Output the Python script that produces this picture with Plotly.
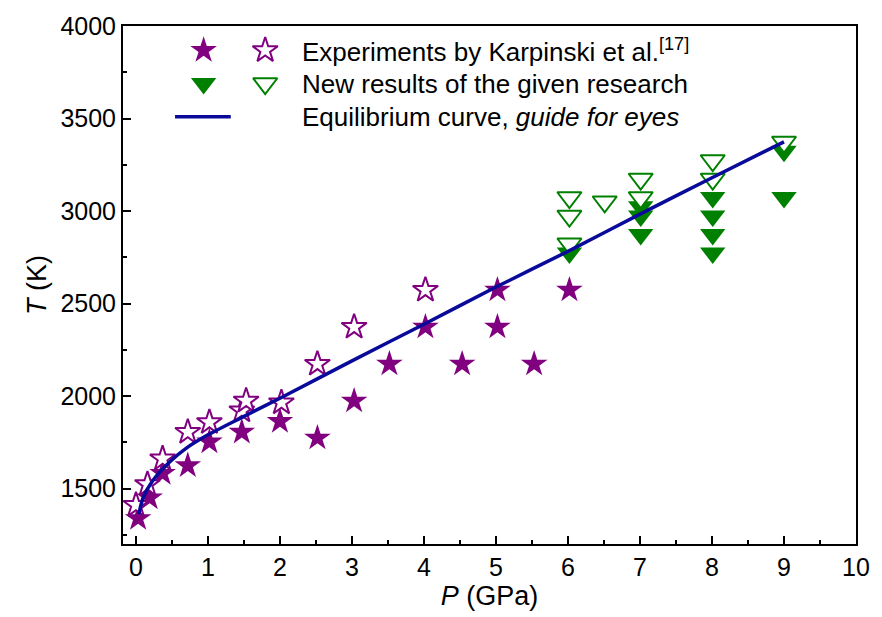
import plotly.graph_objects as go

# ---- data ----
karp_filled_P = [0.03, 0.19, 0.37, 0.72, 1.02, 1.47, 2.0, 2.52, 3.03, 3.52, 4.02, 4.53, 5.02, 5.02, 5.53, 6.02]
karp_filled_T = [1338, 1449, 1582, 1624, 1752, 1805, 1863, 1773, 1973, 2173, 2373, 2173, 2573, 2373, 2173, 2573]

karp_open_P = [0.0, 0.16, 0.37, 0.72, 1.02, 1.47, 1.53, 2.02, 2.52, 3.03, 4.02]
karp_open_T = [1410, 1523, 1661, 1805, 1858, 1921, 1974, 1964, 2173, 2373, 2573]

new_filled_P = [6.02, 7.01, 7.01, 7.01, 8.01, 8.01, 8.01, 8.01, 9.0, 9.0]
new_filled_T = [2773, 3023, 2973, 2873, 3073, 2973, 2873, 2773, 3323, 3073]

new_open_P = [6.02, 6.02, 6.02, 6.51, 7.01, 7.01, 8.01, 8.01, 9.0]
new_open_T = [3073, 2973, 2823, 3050, 3173, 3073, 3273, 3173, 3373]

curve_P = [0.04, 0.1, 0.23, 0.46, 0.7, 1.0, 1.5, 2.0, 3.0, 4.0, 5.0, 6.0, 7.0, 8.0, 9.0]
curve_T = [1362, 1450, 1540, 1640, 1718, 1790, 1890, 1988, 2190, 2388, 2589, 2782, 2983, 3180, 3374]

x_ticks = [0, 1, 2, 3, 4, 5, 6, 7, 8, 9, 10]
y_ticks = [1500, 2000, 2500, 3000, 3500, 4000]

legend_labels = [
    "Experiments by Karpinski et al.<sup>[17]</sup>",
    "New results of the given research",
    "Equilibrium curve, <i>guide for eyes</i>",
]

PURPLE = "#800080"
GREEN = "#008000"
BLUE = "#0a0a9a"
FONT = "Liberation Sans, Arial, sans-serif"

fig = go.Figure()

fig.add_trace(go.Scatter(x=karp_filled_P, y=karp_filled_T, mode="markers",
                         marker=dict(symbol="star", size=20, color=PURPLE, line=dict(width=0)),
                         showlegend=False))
fig.add_trace(go.Scatter(x=karp_open_P, y=karp_open_T, mode="markers",
                         marker=dict(symbol="star", size=19, color="white",
                                     line=dict(width=2, color=PURPLE)),
                         showlegend=False))
fig.add_trace(go.Scatter(x=new_filled_P, y=new_filled_T, mode="markers",
                         marker=dict(symbol="triangle-down", size=22, color=GREEN, line=dict(width=0)),
                         showlegend=False))
fig.add_trace(go.Scatter(x=new_open_P, y=new_open_T, mode="markers",
                         marker=dict(symbol="triangle-down", size=21, color="white",
                                     line=dict(width=2, color=GREEN)),
                         showlegend=False))
fig.add_trace(go.Scatter(x=curve_P, y=curve_T, mode="lines",
                         line=dict(color=BLUE, width=3.5, shape="spline", smoothing=0.8),
                         showlegend=False))

# ---- custom legend (two symbols per row) on a hidden overlay axis ----
leg_sym_x1, leg_sym_x2 = 0.110, 0.194
leg_rows_y = [0.953, 0.889, 0.825]
leg_text_x = 0.241
fig.add_trace(go.Scatter(x=[leg_sym_x1], y=[leg_rows_y[0]], xaxis="x2", yaxis="y2", mode="markers",
                         marker=dict(symbol="star", size=20, color=PURPLE), showlegend=False, hoverinfo="skip"))
fig.add_trace(go.Scatter(x=[leg_sym_x2], y=[leg_rows_y[0]], xaxis="x2", yaxis="y2", mode="markers",
                         marker=dict(symbol="star", size=19, color="white", line=dict(width=2, color=PURPLE)),
                         showlegend=False, hoverinfo="skip"))
fig.add_trace(go.Scatter(x=[leg_sym_x1], y=[leg_rows_y[1]], xaxis="x2", yaxis="y2", mode="markers",
                         marker=dict(symbol="triangle-down", size=22, color=GREEN), showlegend=False, hoverinfo="skip"))
fig.add_trace(go.Scatter(x=[leg_sym_x2], y=[leg_rows_y[1]], xaxis="x2", yaxis="y2", mode="markers",
                         marker=dict(symbol="triangle-down", size=21, color="white", line=dict(width=2, color=GREEN)),
                         showlegend=False, hoverinfo="skip"))
fig.add_trace(go.Scatter(x=[0.071, 0.147], y=[leg_rows_y[2]] * 2, xaxis="x2", yaxis="y2", mode="lines",
                         line=dict(color=BLUE, width=3.5), showlegend=False, hoverinfo="skip"))

for lbl, yy in zip(legend_labels, leg_rows_y):
    fig.add_annotation(x=leg_text_x, y=yy, xref="x2", yref="y2", text=lbl, showarrow=False,
                       xanchor="left", yanchor="middle", font=dict(family=FONT, size=26, color="black"))

fig.update_layout(
    width=882, height=617,
    margin=dict(l=123, r=13, t=16, b=73),
    paper_bgcolor="white", plot_bgcolor="white",
    font=dict(family=FONT, size=25, color="black"),
    xaxis=dict(range=[-0.18, 10], tickvals=x_ticks, ticktext=[str(v) for v in x_ticks],
               ticks="inside", ticklen=8, tickwidth=1.5, tickcolor="black",
               minor=dict(ticks="inside", dtick=0.5, ticklen=4, tickwidth=1.5, tickcolor="black", showgrid=False),
               showline=True, linecolor="black", linewidth=2, mirror=True, showgrid=False, zeroline=False,
               tickfont=dict(size=25), title=dict(text="<i>P</i> (GPa)", font=dict(size=27), standoff=0)),
    yaxis=dict(range=[1200, 4000], tickvals=y_ticks, ticktext=[str(v) for v in y_ticks],
               ticks="inside", ticklen=8, tickwidth=1.5, tickcolor="black",
               minor=dict(ticks="inside", dtick=250, tick0=1250, ticklen=4, tickwidth=1.5, tickcolor="black", showgrid=False),
               showline=True, linecolor="black", linewidth=2, mirror=True, showgrid=False, zeroline=False,
               tickfont=dict(size=25), title=dict(text="<i>T</i> (K)", font=dict(size=27), standoff=6)),
    xaxis2=dict(overlaying="x", range=[0, 1], visible=False, fixedrange=True),
    yaxis2=dict(overlaying="y", range=[0, 1], visible=False, fixedrange=True),
)

fig.write_html("out.html")
